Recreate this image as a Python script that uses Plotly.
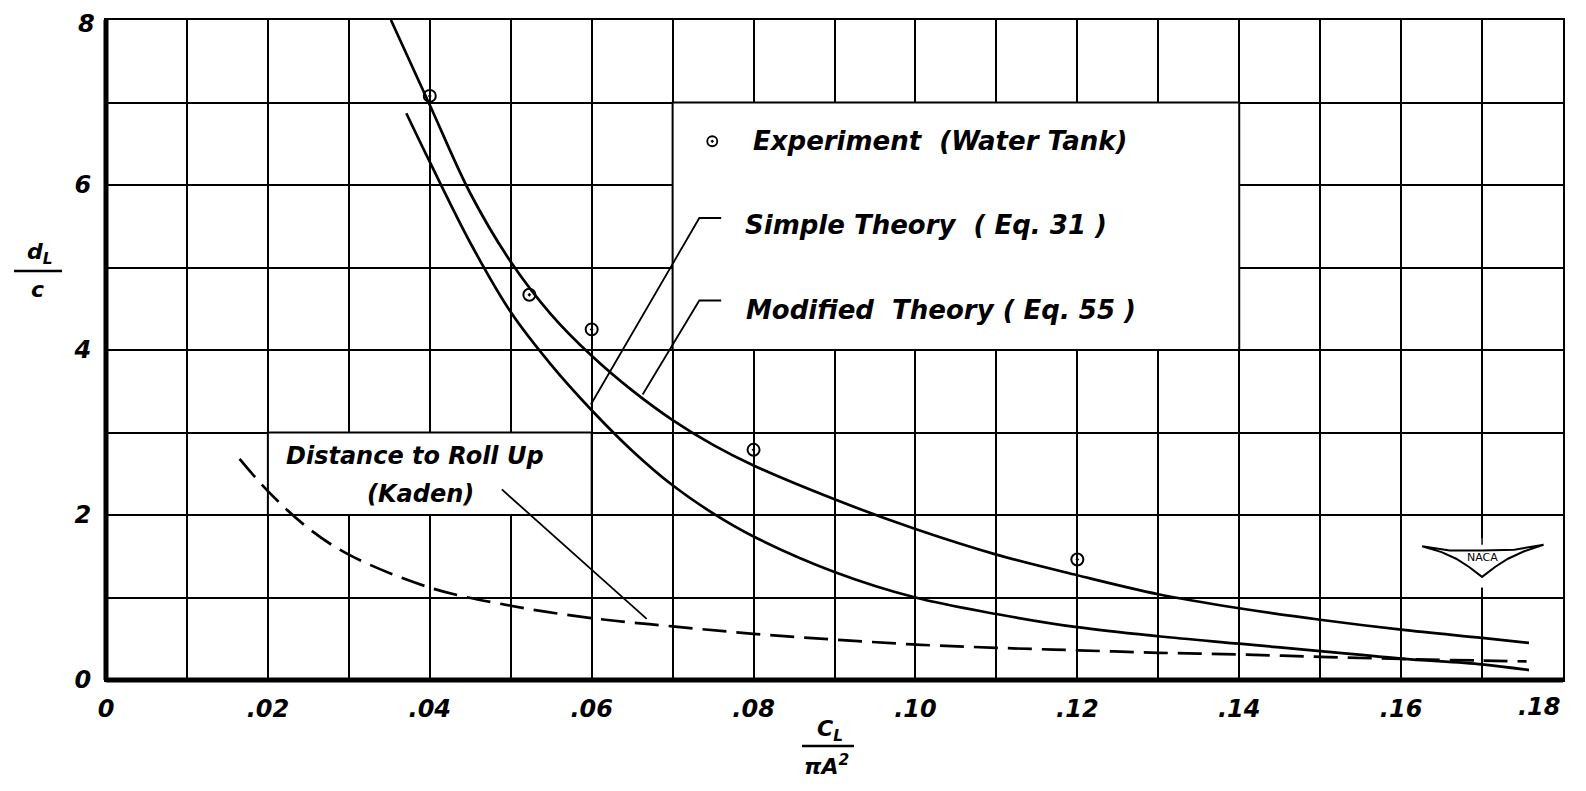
import plotly.graph_objects as go

# ---------------- data ----------------
exp_x = [0.0400, 0.0523, 0.0600, 0.0800, 0.1200]
exp_y = [7.08, 4.67, 4.25, 2.79, 1.46]

mod_x = [0.0352, 0.0400, 0.0450, 0.0500, 0.0550, 0.0600, 0.0650, 0.0700, 0.0750, 0.0800,
         0.0900, 0.1000, 0.1100, 0.1200, 0.1300, 0.1400, 0.1500, 0.1600, 0.1700, 0.1758]
mod_y = [8.00, 6.97, 5.90, 5.07, 4.43, 3.93, 3.51, 3.15, 2.85, 2.60,
         2.19, 1.83, 1.52, 1.27, 1.04, 0.87, 0.73, 0.61, 0.51, 0.45]

simp_x = [0.0371, 0.0400, 0.0450, 0.0500, 0.0550, 0.0600, 0.0650, 0.0700, 0.0750, 0.0800,
          0.0900, 0.1000, 0.1100, 0.1200, 0.1300, 0.1400, 0.1500, 0.1600, 0.1700, 0.1758]
simp_y = [6.87, 6.28, 5.30, 4.46, 3.82, 3.27, 2.78, 2.36, 2.02, 1.74,
          1.31, 1.00, 0.80, 0.64, 0.53, 0.44, 0.35, 0.26, 0.19, 0.12]

kad_x = [0.0165, 0.0200, 0.0250, 0.0300, 0.0400, 0.0500, 0.0600, 0.0700, 0.0800,
         0.0900, 0.1000, 0.1100, 0.1200, 0.1300, 0.1400, 0.1500, 0.1600, 0.1700, 0.1755]
kad_y = [2.68, 2.29, 1.84, 1.52, 1.12, 0.90, 0.75, 0.65, 0.56,
         0.49, 0.43, 0.39, 0.36, 0.33, 0.31, 0.28, 0.255, 0.235, 0.225]

x_tickvals = [round(0.01 * i, 2) for i in range(19)]
x_ticktext = ["0", "", ".02", "", ".04", "", ".06", "", ".08", "", ".10", "", ".12", "",
              ".14", "", ".16", "", ""]
x_last_label = ".18"
y_tickvals = list(range(9))
y_ticktext = ["0", "", "2", "", "4", "", "6", "", ""]
y_top_label = "8"

# annotation geometry (leader lines / label boxes)
simple_leader_x = [0.0599, 0.0733, 0.0760]
simple_leader_y = [3.34, 5.60, 5.60]
mod_leader_x = [0.0663, 0.0733, 0.0760]
mod_leader_y = [3.46, 4.60, 4.60]
kaden_leader_x = [0.0489, 0.0668]
kaden_leader_y = [2.31, 0.74]
legend_box = [0.07, 0.14, 4, 7]
kaden_box = [0.02, 0.06, 2, 3]

FONT = "DejaVu Sans"
BLK = "black"

fig = go.Figure()

# curves
for cx, cy, dash in [(mod_x, mod_y, "solid"), (simp_x, simp_y, "solid"),
                     (kad_x, kad_y, "24px,10px")]:
    fig.add_trace(go.Scatter(x=cx, y=cy, mode="lines",
                             line=dict(color=BLK, width=2.7, shape="spline",
                                       smoothing=1.0, dash=dash),
                             hoverinfo="skip", showlegend=False))
# leader lines
for lx, ly in [(simple_leader_x, simple_leader_y), (mod_leader_x, mod_leader_y),
               (kaden_leader_x, kaden_leader_y)]:
    fig.add_trace(go.Scatter(x=lx, y=ly, mode="lines", line=dict(color=BLK, width=1.8),
                             hoverinfo="skip", showlegend=False))
# experiment points
fig.add_trace(go.Scatter(x=exp_x, y=exp_y, mode="markers",
                         marker=dict(symbol="circle-open-dot", size=12, color=BLK,
                                     line=dict(color=BLK, width=2)),
                         showlegend=False))
# legend marker
fig.add_trace(go.Scatter(x=[0.0749], y=[6.53], mode="markers",
                         marker=dict(symbol="circle-open-dot", size=10, color=BLK,
                                     line=dict(color=BLK, width=1.8)),
                         hoverinfo="skip", showlegend=False))

# white label boxes over the grid
for bx in (legend_box, kaden_box):
    fig.add_shape(type="rect", x0=bx[0], x1=bx[1], y0=bx[2], y1=bx[3],
                  xref="x", yref="y", fillcolor="white",
                  line=dict(color=BLK, width=2), layer="between")

# NACA emblem
fig.add_shape(type="rect", x0=0.1696, x1=0.1704, y0=1.12, y1=1.72, xref="x", yref="y",
              fillcolor="white", line=dict(width=0), layer="between")
fig.add_shape(type="path",
              path="M 0.1626,1.62 L 0.1650,1.55 L 0.1668,1.47 L 0.1684,1.37 L 0.1700,1.25 "
                   "L 0.1716,1.37 L 0.1732,1.47 L 0.1752,1.56 L 0.1776,1.64 "
                   "L 0.1740,1.58 L 0.1700,1.57 L 0.1660,1.57 Z",
              xref="x", yref="y", fillcolor="white", line=dict(color=BLK, width=2),
              layer="above")
fig.add_shape(type="line", x0=0.1700, x1=0.1700, y0=1.64, y1=1.72, xref="x", yref="y",
              line=dict(color=BLK, width=1.5))

# thick left / bottom border
fig.add_shape(type="line", xref="paper", yref="paper", x0=0, x1=0, y0=0, y1=1,
              line=dict(color=BLK, width=5))
fig.add_shape(type="line", xref="paper", yref="paper", x0=0, x1=1, y0=0, y1=0,
              line=dict(color=BLK, width=5))

tf = dict(family=FONT, size=26, color=BLK, weight="bold", style="italic")
sf = dict(family=FONT, size=24, color=BLK, weight="bold", style="italic")

ann = [
    dict(x=0.0797, y=6.53, text="Experiment  (Water Tank)", xanchor="left", font=tf),
    dict(x=0.0787, y=5.51, text="Simple Theory  ( Eq. 31 )", xanchor="left", font=tf),
    dict(x=0.0788, y=4.49, text="Modified  Theory ( Eq. 55 )", xanchor="left", font=tf),
    dict(x=0.0382, y=2.72, text="Distance to Roll Up", xanchor="center", font=sf),
    dict(x=0.0389, y=2.26, text="(Kaden)", xanchor="center", font=sf),
    dict(x=0.1700, y=1.49, text="NACA", xanchor="center",
         font=dict(family=FONT, size=11, color=BLK)),
]
for a in ann:
    fig.add_annotation(xref="x", yref="y", showarrow=False, yanchor="middle", **a)

# edge tick labels kept inside the page (as placed in the original)
fig.add_annotation(xref="paper", yref="paper", x=1.0, y=0, yanchor="top", xanchor="right",
                   yshift=-11, text=x_last_label, showarrow=False, font=sf)
fig.add_annotation(xref="paper", yref="paper", x=0, y=1, yanchor="top", xanchor="right",
                   xshift=-9, yshift=12, text=y_top_label, showarrow=False, font=sf)

# axis titles (fractions)
tt = dict(family=FONT, size=22, color=BLK, weight="bold", style="italic")
fig.add_annotation(xref="paper", yref="paper", x=-0.045, y=(680 - 254) / 660.0,
                   text="d<sub>L</sub>", showarrow=False, font=tt,
                   xanchor="center", yanchor="middle")
fig.add_annotation(xref="paper", yref="paper", x=-0.047, y=(680 - 289) / 660.0,
                   text="c", showarrow=False, font=tt, xanchor="center", yanchor="middle")
fig.add_shape(type="line", xref="paper", yref="paper",
              x0=(14 - 106) / 1457.0, x1=(62 - 106) / 1457.0,
              y0=(680 - 271) / 660.0, y1=(680 - 271) / 660.0,
              line=dict(color=BLK, width=2.5))
fig.add_annotation(xref="paper", yref="paper", x=(830 - 106) / 1457.0, y=(680 - 730) / 660.0,
                   text="C<sub>L</sub>", showarrow=False, font=tt,
                   xanchor="center", yanchor="middle")
fig.add_shape(type="line", xref="paper", yref="paper",
              x0=(802 - 106) / 1457.0, x1=(854 - 106) / 1457.0,
              y0=(680 - 746) / 660.0, y1=(680 - 746) / 660.0,
              line=dict(color=BLK, width=2.5))
fig.add_annotation(xref="paper", yref="paper", x=(826 - 106) / 1457.0, y=(680 - 765) / 660.0,
                   text="\u03c0A<sup>2</sup>", showarrow=False, font=tt,
                   xanchor="center", yanchor="middle")

fig.update_xaxes(range=[0, 0.18], tickmode="array", tickvals=x_tickvals, ticktext=x_ticktext,
                 showgrid=True, gridcolor=BLK, gridwidth=2, zeroline=False,
                 showline=True, mirror=True, linecolor=BLK, linewidth=2,
                 ticks="", tickfont=sf, ticklabelstandoff=6, fixedrange=True)
fig.update_yaxes(range=[0, 8], tickmode="array", tickvals=y_tickvals, ticktext=y_ticktext,
                 showgrid=True, gridcolor=BLK, gridwidth=2, zeroline=False,
                 showline=True, mirror=True, linecolor=BLK, linewidth=2,
                 ticks="", tickfont=sf, ticklabelstandoff=8, fixedrange=True)

# page body has an 8px margin: size the figure so the plot frame lands at 106..1563 x 20..680
fig.update_layout(width=1570, height=775,
                  margin=dict(l=98, r=15, t=12, b=103, autoexpand=False),
                  paper_bgcolor="white", plot_bgcolor="white", showlegend=False)

fig.write_html("out.html")
